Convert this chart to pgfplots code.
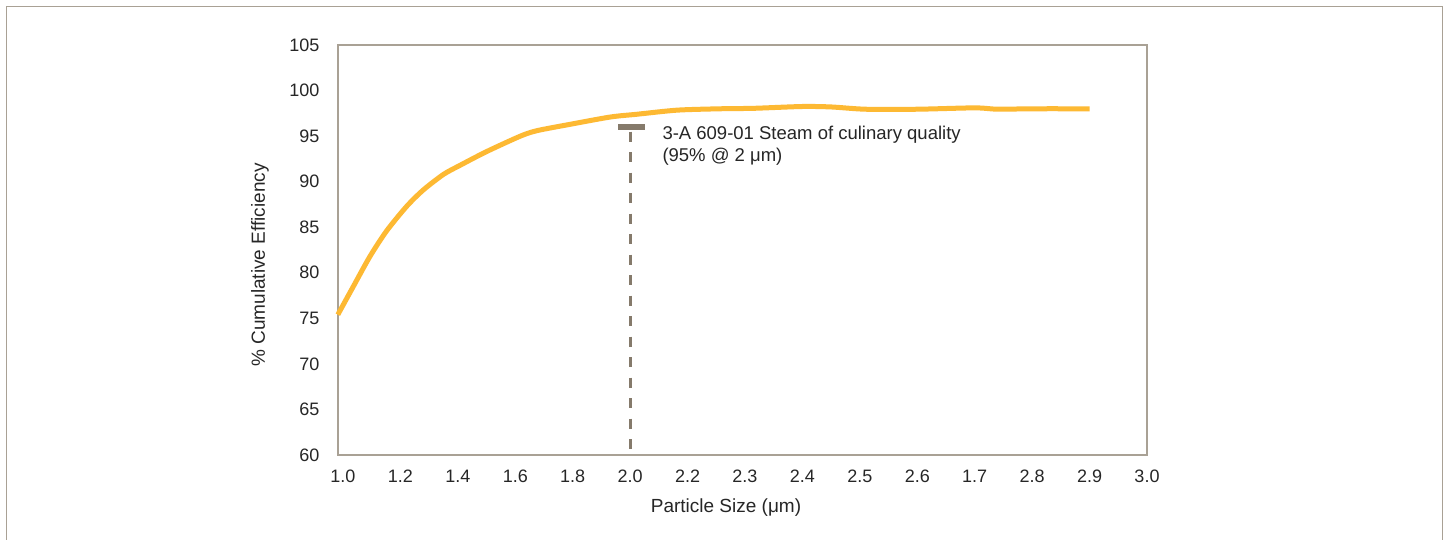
\documentclass[border=0pt]{standalone}
\usepackage{fontspec}
\setmainfont{Liberation Sans}
\usepackage{pgfplots}
\pgfplotsset{compat=1.18}
\definecolor{curvecol}{HTML}{FDB933}
\definecolor{framecol}{HTML}{A9A195}
\definecolor{dashcol}{HTML}{857A6B}
\definecolor{txtcol}{HTML}{262626}
\begin{document}
\begin{tikzpicture}[x=1pt,y=1pt]
\begin{axis}[
  at={(0,0)}, anchor=south west,
  scale only axis, width=809pt, height=410pt,
  xmin=-0.087, xmax=14, ymin=60, ymax=105,
  xtick={0,...,14},
  xticklabels={1.0,1.2,1.4,1.6,1.8,2.0,2.2,2.3,2.4,2.5,2.6,1.7,2.8,2.9,3.0},
  ytick={60,65,...,105},
  major tick length=0pt,
  axis line style={framecol, line width=1.3pt},
  tick label style={font=\fontsize{18}{21}\selectfont, text=txtcol},
  /pgf/number format/assume math mode=true,
  xticklabel style={yshift=-11pt, text height=13pt, text depth=3pt},
  yticklabel style={xshift=-15pt},
  xlabel={Particle Size (μm)},
  ylabel={\% Cumulative Efficiency},
  label style={font=\fontsize{19}{22}\selectfont, text=txtcol},
  xlabel style={at={(axis description cs:0.4796,0)}, anchor=center, yshift=-53pt},
  ylabel style={at={(axis description cs:-0.0964,0.4634)}, anchor=center},
  clip=false,
  axis background/.style={fill=white},
]
% dashed reference line
\addplot[dashcol, line width=3pt, dash pattern=on 10pt off 10.5pt] coordinates {(5,95.5) (5,60)};
% cap of reference
\addplot[dashcol, line width=6pt] coordinates {(4.794,95.98) (5.265,95.98)};
% efficiency curve
\addplot[curvecol, line width=5pt, smooth, tension=0.45] coordinates {
(-0.09,75.4)
(0.18,78.5)
(0.47,81.8)
(0.76,84.6)
(1.11,87.3)
(1.40,89.1)
(1.75,90.8)
(2.04,91.8)
(2.50,93.3)
(3.09,95.0)
(3.38,95.6)
(3.96,96.3)
(4.66,97.1)
(5.12,97.4)
(5.82,97.85)
(6.57,98.0)
(7.15,98.05)
(8.0,98.25)
(8.5,98.2)
(9.1,97.95)
(10.0,97.95)
(11.0,98.1)
(11.4,97.95)
(12.0,98.0)
(13.0,98.0)
};
\node[anchor=north west, inner sep=0pt, align=left, text=txtcol,
      font=\fontsize{18.5}{21.5}\selectfont] at (axis cs:5.56,96.1)
  {3-A 609-01 Steam of culinary quality\\(95\% @ 2 μm)};
\end{axis}
\draw[framecol, line width=1.3pt] (-331.5,-100) -- (-331.5,448.5) -- (1104.5,448.5) -- (1104.5,-100);
\pgfresetboundingbox
\useasboundingbox (-338,-85) rectangle (1111,455);
\end{tikzpicture}
\end{document}
